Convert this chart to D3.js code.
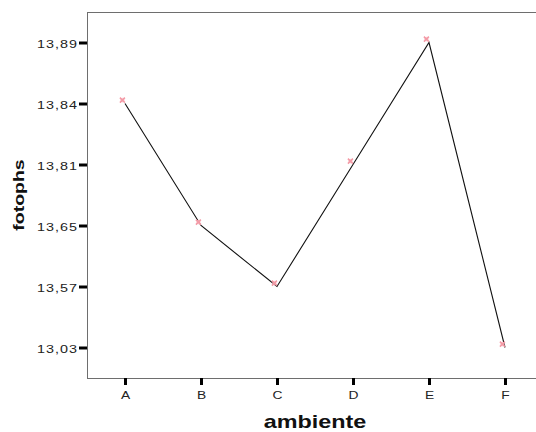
<!DOCTYPE html>
<html>
<head>
<meta charset="utf-8">
<script src="https://cdn.jsdelivr.net/npm/d3@7"></script>
<style>
  html, body { margin: 0; padding: 0; background: #fff; }
  svg { display: block; font-family: "Liberation Sans", Arial, sans-serif; }
</style>
</head>
<body>
<svg id="chart" width="536" height="432"></svg>
<script>
// Data
const categories = ["A", "B", "C", "D", "E", "F"];
const values = [13.84, 13.65, 13.57, 13.81, 13.89, 13.03];
const yTickLabels = ["13,03", "13,57", "13,65", "13,81", "13,84", "13,89"];
const xTitle = "ambiente";
const yTitle = "fotophs";

const svg = d3.select("#chart");
const plot = { left: 87, top: 12, right: 543, bottom: 378 };

const fmt = v => v.toFixed(2).replace(".", ",");

const x = d3.scalePoint().domain(categories).range([plot.left, plot.right]).padding(0.5);
const y = d3.scalePoint().domain(yTickLabels).range([plot.bottom, plot.top]).padding(0.5);

// frame
svg.append("rect")
  .attr("x", plot.left + 0.5).attr("y", plot.top + 0.5)
  .attr("width", plot.right - plot.left).attr("height", plot.bottom - plot.top)
  .attr("fill", "none").attr("stroke", "#6e6e6e").attr("stroke-width", 1);

// y axis
const yAxis = d3.axisLeft(y).tickSize(8).tickPadding(2);
const gy = svg.append("g").attr("transform", `translate(${plot.left},0)`).call(yAxis);
gy.select(".domain").remove();
gy.selectAll(".tick line").attr("stroke", "#000").attr("stroke-width", 3);
gy.selectAll(".tick text")
  .attr("fill", "#222").attr("font-size", 11.5).attr("letter-spacing", "0.8px")
  .attr("dy", "0.45em").attr("x", 0)
  .attr("transform", "translate(-9,0) scale(1.25,1)");

// x axis
const xAxis = d3.axisBottom(x).tickSize(7).tickPadding(6);
const gx = svg.append("g").attr("transform", `translate(0,${plot.bottom})`).call(xAxis);
gx.select(".domain").remove();
gx.selectAll(".tick line").attr("stroke", "#000").attr("stroke-width", 3);
gx.selectAll(".tick text").attr("fill", "#222").attr("font-size", 11.5)
  .attr("transform", "scale(1.2,1)");

// line
const pts = categories.map((c, i) => [x(c), y(fmt(values[i]))]);
svg.append("path")
  .attr("d", d3.line()(pts))
  .attr("fill", "none").attr("stroke", "#111").attr("stroke-width", 1.1);

// markers
const mk = svg.append("g");
pts.forEach(p => {
  mk.append("circle")
    .attr("cx", p[0] - 2.6).attr("cy", p[1] - 3.4).attr("r", 2.3)
    .attr("fill", "#f8c0c8").attr("opacity", 0.7);
  mk.append("path")
    .attr("transform", `translate(${p[0] - 2.6},${p[1] - 3.4})`)
    .attr("d", d3.symbol().type(d3.symbolTimes).size(18)())
    .attr("fill", "none").attr("stroke", "#f49aa6").attr("stroke-width", 1.5);
});

// axis titles
svg.append("text")
  .attr("transform", `translate(${(plot.left + plot.right) / 2},428) scale(1.3,1)`)
  .attr("text-anchor", "middle").attr("font-weight", "bold")
  .attr("font-size", 18).attr("fill", "#111")
  .text(xTitle);

svg.append("text")
  .attr("transform", `translate(24,${(plot.top + plot.bottom) / 2}) rotate(-90) scale(1.3,1)`)
  .attr("text-anchor", "middle").attr("font-weight", "bold")
  .attr("font-size", 15).attr("fill", "#111")
  .text(yTitle);
</script>
</body>
</html>
